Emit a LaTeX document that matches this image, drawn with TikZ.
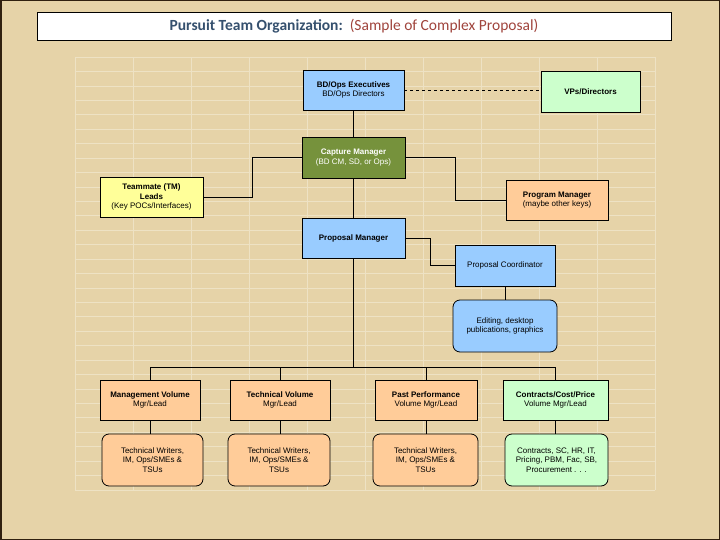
\documentclass[tikz,border=0pt]{standalone}
\usepackage{fontspec}
\setmainfont{Liberation Sans}
\newfontfamily\titlefont{Carlito}
\usetikzlibrary{calc}
\definecolor{parch}{HTML}{E6D3A8}
\definecolor{gridc}{HTML}{EEE2C4}
\definecolor{boxblue}{HTML}{99CCFF}
\definecolor{boxgreen}{HTML}{CCFFCC}
\definecolor{boxolive}{HTML}{76923C}
\definecolor{boxyellow}{HTML}{FFFF99}
\definecolor{boxpeach}{HTML}{FFCC99}
\definecolor{titleblue}{HTML}{35506E}
\definecolor{titlered}{HTML}{A0443C}
\tikzset{
  orgbox/.style={draw, line width=0.8pt, align=center, inner sep=0pt,
    minimum height=40pt, font=\fontsize{8}{9.6}\selectfont},
  workbox/.style={orgbox, rounded corners=7pt, minimum height=52pt},
  link/.style={line width=0.8pt}
}
\begin{document}
\begin{tikzpicture}[x=1pt,y=-1pt]
                \useasboundingbox (0,0) rectangle (720,540);
                \fill [parch] (0,0) rectangle (720,540);
                % faint grid behind the chart
                \foreach \gx in {0,...,10}
                  \draw [gridc, line width=0.6pt] (75+58*\gx,57) -- (75+58*\gx,490);
                \foreach \gy in {0,...,30}
                  \draw [gridc, line width=0.6pt] (75,57+14.43*\gy) -- (655,57+14.43*\gy);
                \draw [black!75!brown, line width=1.5pt] (0.75,0.75) rectangle (719.25,539.25);
                % title
                \node [draw, fill=white, line width=0.8pt, minimum width=634pt, minimum height=28pt, inner sep=0pt]
                  (title) at (354,26) {\titlefont\fontsize{15.5}{17}\selectfont
                  \textcolor{titleblue}{\textbf{Pursuit Team Organization:}}\ \ \textcolor{titlered}{(Sample of Complex Proposal)}};
                % boxes
                \node [orgbox, fill=boxblue, minimum width=101pt] (exec) at (353.5,90) {\textbf{BD/Ops Executives}\\BD/Ops Directors};
                \node [orgbox, fill=boxgreen, minimum width=99pt, minimum height=41pt] (vps) at (590.5,91.5) {\textbf{VPs/Directors}};
                \node [orgbox, fill=boxolive, text=white, minimum width=103pt, minimum height=41pt] (capture) at (353.5,157.5) {\textbf{Capture Manager}\\(BD CM, SD, or Ops)};
                \node [orgbox, fill=boxyellow, minimum width=103pt] (tm) at (151.5,197) {\textbf{Teammate (TM)}\\\textbf{Leads}\\(Key POCs/Interfaces)};
                \node [orgbox, fill=boxpeach, minimum width=102pt] (prog) at (557,200) {\textbf{Program Manager}\\(maybe other keys)};
                \node [orgbox, fill=boxblue, minimum width=103pt] (propm) at (353.5,238) {\textbf{Proposal Manager}};
                \node [orgbox, fill=boxblue, minimum width=100pt, minimum height=41pt] (coord) at (505,265.5) {Proposal Coordinator};
                \node [workbox, fill=boxblue, minimum width=104pt] (edit) at (505,326) {Editing, desktop\\publications, graphics};
                \node [orgbox, fill=boxpeach, minimum width=100pt] (mgmt) at (150,400) {\textbf{Management Volume}\\Mgr/Lead};
                \node [orgbox, fill=boxpeach, minimum width=100pt] (tech) at (280,400) {\textbf{Technical Volume}\\Mgr/Lead};
                \node [orgbox, fill=boxpeach, minimum width=102pt] (past) at (426,400) {\textbf{Past Performance}\\Volume Mgr/Lead};
                \node [orgbox, fill=boxgreen, minimum width=105pt] (cost) at (555.5,400) {\textbf{Contracts/Cost/Price}\\Volume Mgr/Lead};
                \node [workbox, fill=boxpeach, minimum width=101pt] (mgmtw) at (152.5,460) {Technical Writers,\\IM, Ops/SMEs \&\\TSUs};
                \node [workbox, fill=boxpeach, minimum width=102pt] (techw) at (279,460) {Technical Writers,\\IM, Ops/SMEs \&\\TSUs};
                \node [workbox, fill=boxpeach, minimum width=105pt] (pastw) at (425.5,460) {Technical Writers,\\IM, Ops/SMEs \&\\TSUs};
                \node [workbox, fill=boxgreen, minimum width=103pt] (costw) at (556.5,460) {Contracts, SC, HR, IT,\\Pricing, PBM, Fac, SB,\\Procurement . . .};
                % connectors
                \draw [link, dashed] (exec.east) -- (exec.east -| vps.west);
                \draw [link] (exec) -- (capture);
                \draw [link] (capture.west) -- ++(-49,0) |- (tm.east);
                \draw [link] (capture.east) -- ++(50,0) |- (prog.west);
                \draw [link] (capture) -- (propm);
                \draw [link] (propm.east) -- ++(25,0) |- (coord.west);
                \draw [link] (coord) -- (edit);
                \draw [link] (propm.south) -- ++(0,109) coordinate (bus);
                \draw [link] (mgmt.north) |- (bus) -| (cost.north);
                \draw [link] (tech.north) |- (bus);
                \draw [link] (past.north) |- (bus);
                \draw [link] (mgmt) -- (mgmt |- mgmtw.north);
                \draw [link] (tech) -- (tech |- techw.north);
                \draw [link] (past) -- (past |- pastw.north);
                \draw [link] (cost) -- (cost |- costw.north);
\end{tikzpicture}
\end{document}
